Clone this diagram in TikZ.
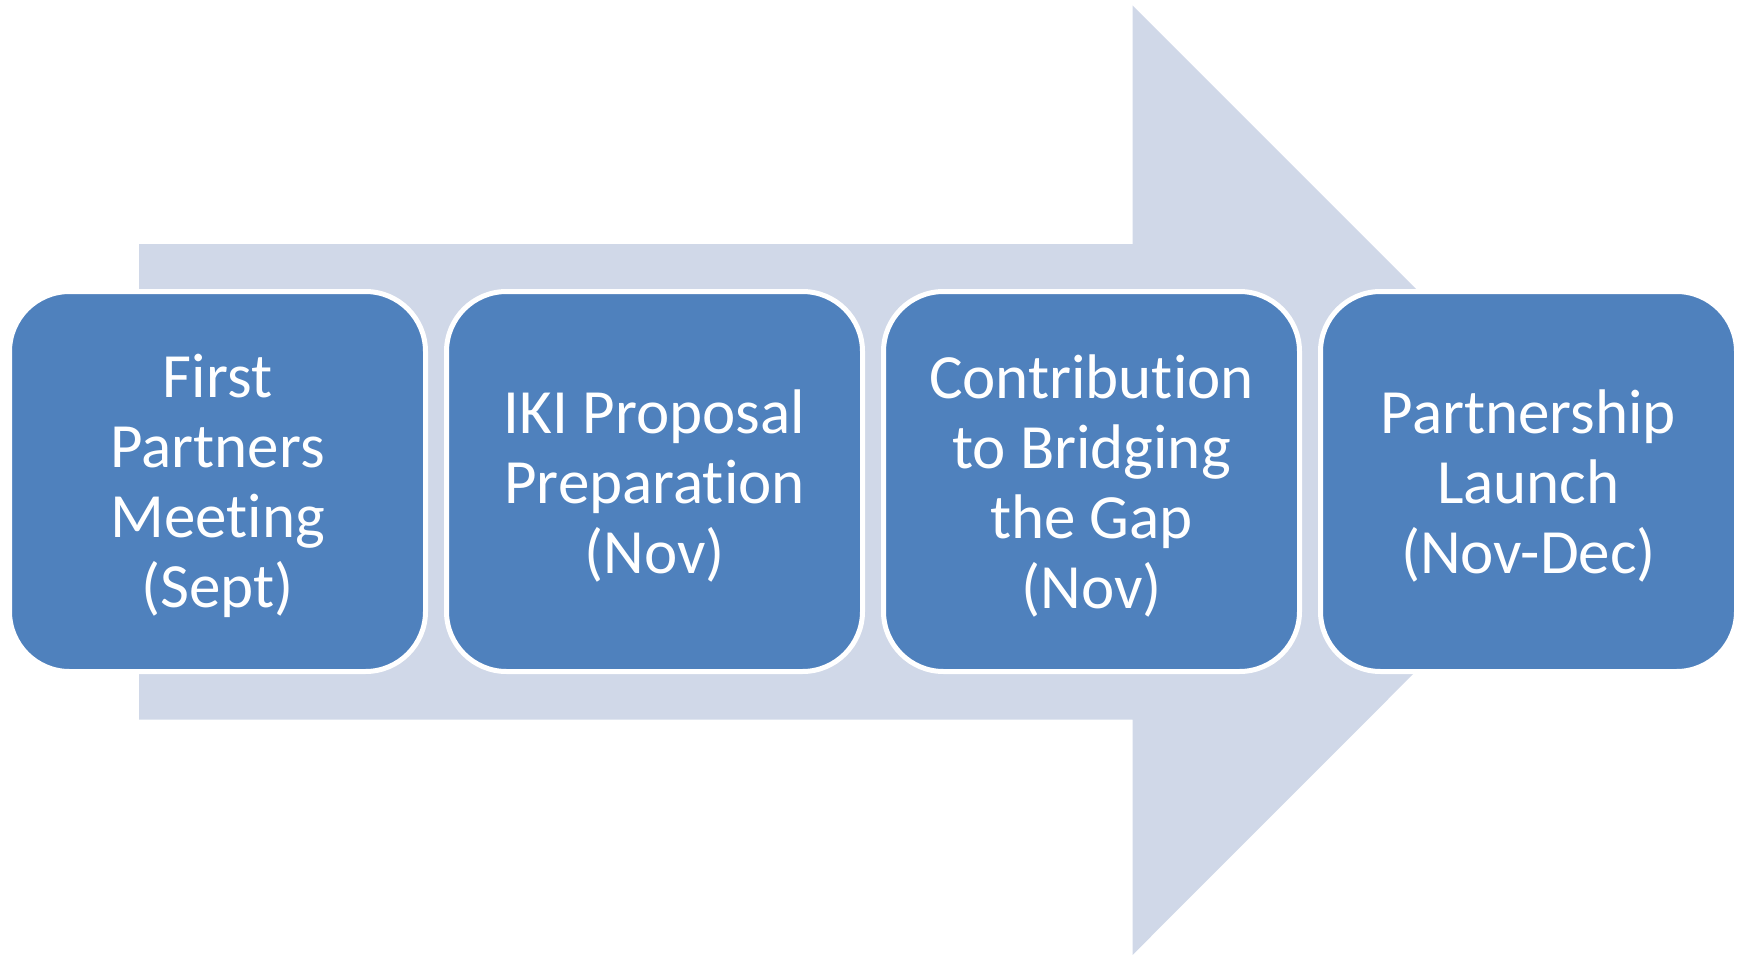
\documentclass[tikz,border=0pt]{standalone}
\usepackage{fontspec}
\setmainfont[Ligatures=NoCommon]{Carlito}
\definecolor{boxblue}{HTML}{4F81BD}
\definecolor{arrowfill}{HTML}{D0D8E8}
\begin{document}
\begin{tikzpicture}[x=1pt,y=-1pt,
  stage/.style={draw=white, line width=5pt, fill=boxblue, rounded corners=60pt,
    minimum width=416pt, minimum height=380pt, inner sep=0pt},
  stagetext/.style={text=white, align=center, inner sep=0pt, yshift=-4pt,
    font=\fontsize{63}{70}\selectfont}]
\useasboundingbox (0,0) rectangle (1741,955);
\fill[arrowfill] (139,244) -- (1132.5,244) -- (1132.5,5.5) -- (1607,480)
  -- (1132.5,955) -- (1132.5,719.5) -- (139,719.5) -- cycle;
\node[stage] (s1) at (217.5,481.5) {};
\node[stage] (s2) at (654.5,481.5) {};
\node[stage] (s3) at (1091.5,481.5) {};
\node[stage] (s4) at (1528.5,481.5) {};
\node[stagetext] (t1) at (s1.center) {First\\Partners\\Meeting\\(Sept)};
\node[stagetext] (t2) at (s2.center) {IKI Proposal\\Preparation\\(Nov)};
\node[stagetext] (t3) at (s3.center) {Contribution\\to Bridging\\the Gap\\(Nov)};
\node[stagetext] (t4) at (s4.center) {Partnership\\Launch\\(Nov-Dec)};
\end{tikzpicture}
\end{document}
